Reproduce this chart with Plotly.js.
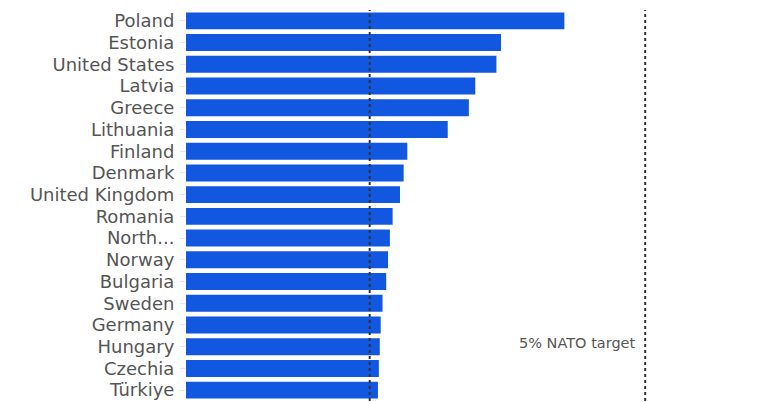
<!DOCTYPE html>
<html>
<head>
<meta charset="utf-8">
<script src="https://cdn.plot.ly/plotly-3.0.1.min.js"></script>
<style>html,body{margin:0;padding:0;background:#fff;}#chart{width:768px;height:402px;}</style>
</head>
<body>
<div id="chart"></div>
<script>
const countries = ["Poland","Estonia","United States","Latvia","Greece","Lithuania","Finland","Denmark","United Kingdom","Romania","North Macedonia","Norway","Bulgaria","Sweden","Germany","Hungary","Czechia","Türkiye"];
const tickLabels = ["Poland","Estonia","United States","Latvia","Greece","Lithuania","Finland","Denmark","United Kingdom","Romania","North...","Norway","Bulgaria","Sweden","Germany","Hungary","Czechia","Türkiye"];
const spending = [4.12,3.43,3.38,3.15,3.08,2.85,2.41,2.37,2.33,2.25,2.22,2.20,2.18,2.14,2.12,2.11,2.10,2.09];
const currentTarget = 2;
const natoTarget = 5;
const targetLabel = "5% NATO target";

const trace = {
  type: 'bar', orientation: 'h',
  y: countries, x: spending,
  marker: {color: '#1257DF'},
  hoverinfo: 'x+y'
};
const layout = {
  width: 768, height: 402,
  margin: {l: 186, r: 8, t: 10, b: 1},
  paper_bgcolor: '#fff', plot_bgcolor: '#fff',
  bargap: 0.22,
  showlegend: false,
  xaxis: {range: [0, 6.25], showgrid: false, zeroline: false, showticklabels: false, ticks: '', showline: false, fixedrange: true},
  yaxis: {autorange: 'reversed', tickmode: 'array', tickvals: countries, ticktext: tickLabels,
    ticks: 'outside', ticklen: 5, tickcolor: '#e6e6e6', showgrid: false, showline: false,
    ticklabelstandoff: 2,
    tickfont: {family: 'DejaVu Sans, sans-serif', size: 18, color: '#555'}},
  shapes: [
    {type: 'line', xref: 'x', yref: 'paper', x0: currentTarget, x1: currentTarget, y0: 0, y1: 1, line: {color: '#333', width: 2, dash: 'dot'}, layer: 'above'},
    {type: 'line', xref: 'x', yref: 'paper', x0: natoTarget, x1: natoTarget, y0: 0, y1: 1, line: {color: '#333', width: 2, dash: 'dot'}, layer: 'above'}
  ],
  annotations: [
    {xref: 'x', yref: 'paper', x: natoTarget, y: 0.149, xanchor: 'right', yanchor: 'middle', xshift: -7, text: targetLabel, showarrow: false,
     font: {family: 'DejaVu Sans, sans-serif', size: 14.5, color: '#555'}}
  ]
};
Plotly.newPlot('chart', [trace], layout, {displayModeBar: false, staticPlot: true});
</script>
</body>
</html>
